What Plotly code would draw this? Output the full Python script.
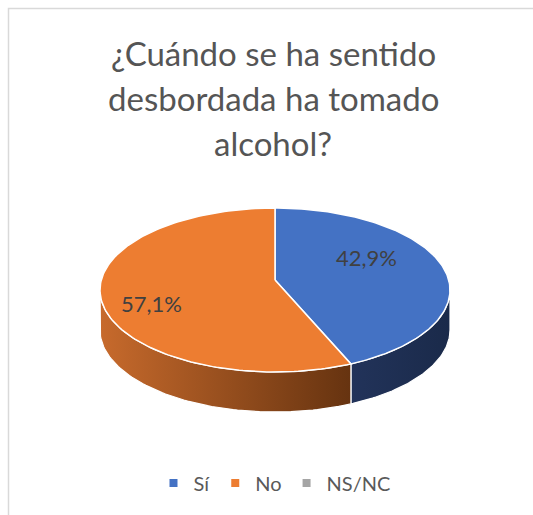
import numpy as np
import plotly.graph_objects as go

# ---- data ----
categories = ["Sí", "No", "NS/NC"]
counts = [3, 4, 0]
top_colors = ["#4472C4", "#ED7D31", "#A5A5A5"]
side_colors = [
    [[0, "#22335a"], [1, "#1a2a4a"]],
    [[0, "#c76a2c"], [1, "#663310"]],
    [[0, "#7a7a7a"], [1, "#555555"]],
]
title_lines = ["¿Cuándo se ha sentido", "desbordada ha tomado", "alcohol?"]

# ---- geometry (pixel-like coordinates) ----
W, H = 533, 515
cx, cy = 275, 290
rx, ry = 175, 82
apex_y = 280
depth = 40

total = sum(counts)
fracs = [c / total for c in counts]
starts = np.cumsum([0] + fracs[:-1]) * 360
ends = np.cumsum(fracs) * 360


def ell(t_deg, dy=0.0):
    t = np.radians(t_deg)
    return cx + rx * np.sin(t), cy - ry * np.cos(t) + dy


fig = go.Figure()

# side faces (front half: 90..270 degrees clockwise from top)
for i, (a, b) in enumerate(zip(starts, ends)):
    lo, hi = max(a, 90), min(b, 270)
    if hi <= lo:
        continue
    t = np.linspace(lo, hi, 80)
    xt, yt = ell(t)
    xb, yb = ell(t[::-1], depth)
    xs = np.concatenate([xt, xb, xt[:1]])
    ys = np.concatenate([yt, yb, yt[:1]])
    fig.add_trace(go.Scatter(
        x=xs, y=ys, mode="lines", fill="toself",
        fillgradient=dict(type="horizontal", colorscale=side_colors[i]),
        line=dict(color="white", width=1.2),
        hoverinfo="skip", showlegend=False))

# top faces
for i, (a, b) in enumerate(zip(starts, ends)):
    if b - a <= 0:
        continue
    t = np.linspace(a, b, 160)
    xt, yt = ell(t)
    xs = np.concatenate([[cx], xt, [cx]])
    ys = np.concatenate([[apex_y], yt, [apex_y]])
    fig.add_trace(go.Scatter(
        x=xs, y=ys, mode="lines", fill="toself", fillcolor=top_colors[i],
        line=dict(color="white", width=1.5),
        hoverinfo="skip", showlegend=False))

# data labels
label_pos = {0: (366, 257), 1: (151, 303)}
for i, c in enumerate(counts):
    if c == 0:
        continue
    txt = f"{fracs[i]*100:.1f}%".replace(".", ",")
    x, y = label_pos[i]
    fig.add_annotation(x=x, y=y, text=txt, showarrow=False,
                       font=dict(family="Lato, Carlito, sans-serif", size=22, color="#404040"))

# legend entries
for i, name in enumerate(categories):
    fig.add_trace(go.Scatter(
        x=[None], y=[None], mode="markers", name=name,
        marker=dict(symbol="square", size=8, color=top_colors[i])))

# title lines
for k, line in enumerate(title_lines):
    fig.add_annotation(x=273, y=67 + 45 * k, text=line, showarrow=False,
                       yanchor="bottom", xanchor="center", yshift=-8,
                       font=dict(family="Lato, Carlito, sans-serif", size=33, color="#555555"))

# chart border
fig.add_shape(type="rect", x0=8.5, y0=8.5, x1=W + 10, y1=H + 10,
              line=dict(color="#D9D9D9", width=1.5), layer="below")

fig.update_layout(
    width=W, height=H, margin=dict(l=0, r=0, t=0, b=0),
    paper_bgcolor="white", plot_bgcolor="white",
    xaxis=dict(range=[0, W], visible=False, fixedrange=True),
    yaxis=dict(range=[H, 0], visible=False, fixedrange=True),
    showlegend=True,
    legend=dict(orientation="h", x=0.515, xanchor="center", y=1 - 483 / H, yanchor="middle",
                font=dict(family="Lato, Carlito, sans-serif", size=20, color="#595959"),
                itemwidth=30, bgcolor="rgba(0,0,0,0)"),
)

fig.write_html("out.html")
